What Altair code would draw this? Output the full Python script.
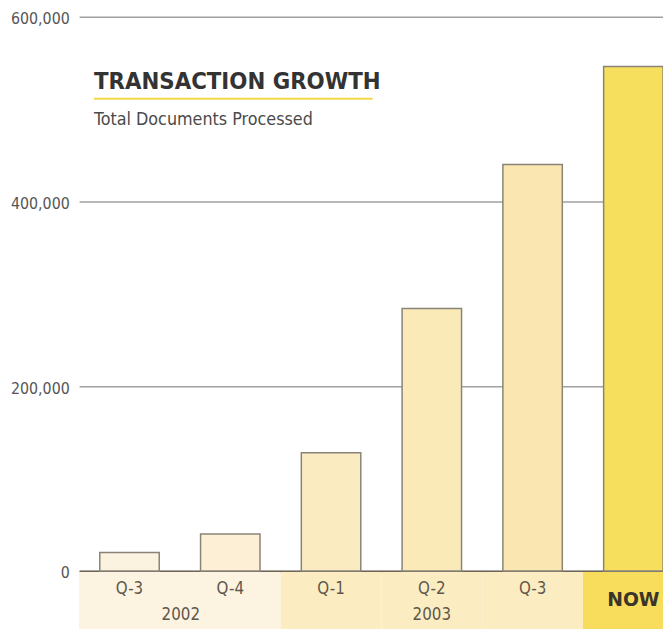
import altair as alt
import pandas as pd

# ---- data ----
categories = ["2002 Q-3", "2002 Q-4", "2003 Q-1", "2003 Q-2", "2003 Q-3", "NOW"]
quarter_labels = ["Q-3", "Q-4", "Q-1", "Q-2", "Q-3", ""]
groups = ["2002", "2002", "2003", "2003", "2003", "NOW"]
documents = [20000, 40000, 128000, 284000, 440000, 546000]
bar_fills = ["#FBF2E0", "#FCEFD6", "#FAEBC0", "#FAEAB8", "#FAE6B0", "#F7DF5E"]
strip_fills = {"2002": "#FDF3E1", "2003": "#FCECC2", "NOW": "#F8DD5C"}
y_ticks = [0, 200000, 400000, 600000]

title_text = "TRANSACTION GROWTH"
subtitle_text = "Total Documents Processed"

df = pd.DataFrame({
    "cat": categories,
    "q": quarter_labels,
    "group": groups,
    "docs": documents,
    "fill": bar_fills,
    "strip": [strip_fills[g] for g in groups],
})

W, H = 593, 561
PAD_IN = 0.41
COND = "DejaVu Sans Condensed, Liberation Sans"

xscale = alt.Scale(domain=categories, range=[2, 614], paddingInner=PAD_IN, paddingOuter=PAD_IN / 2)
X = alt.X("cat:N", scale=xscale, sort=categories,
          axis=alt.Axis(labels=False, ticks=False, title=None, grid=False,
                        domain=True, domainColor="#6e6658", domainWidth=2))
Y = alt.Y("docs:Q", scale=alt.Scale(domain=[0, 600000], nice=False),
          axis=alt.Axis(values=y_ticks, format=",.0f", title=None, ticks=False, domain=False,
                        grid=True, gridColor="#a0a0a0", gridWidth=1.5,
                        labelFont=COND, labelFontSize=16, labelColor="#555555",
                        labelPadding=8, labelOffset=2))

base = alt.Chart(df)

strip = base.mark_bar(width={"band": 1 / (1 - PAD_IN)}).encode(
    x=X,
    y=alt.value(H + 1),
    y2=alt.value(H + 60),
    fill=alt.Fill("strip:N", scale=None),
)

bars = base.mark_bar(stroke="#8a8478", strokeWidth=1.5).encode(
    x=X,
    y=Y,
    fill=alt.Fill("fill:N", scale=None),
)

qtext = base.mark_text(font=COND, fontSize=17, color="#5e584c", baseline="middle").encode(
    x=X, y=alt.value(H + 18), text="q:N"
)

nowtext = base.transform_filter(alt.datum.cat == "NOW").mark_text(
    font="DejaVu Sans", fontWeight="bold", fontSize=19, color="#3a3528", baseline="middle"
).encode(x=X, y=alt.value(H + 30), text=alt.value("NOW"))

y2002 = base.transform_filter(alt.datum.cat == "2002 Q-4").mark_text(
    font=COND, fontSize=17, color="#5e584c", baseline="middle", dx=-20
).encode(x=alt.X("cat:N", scale=xscale, sort=categories, bandPosition=0), y=alt.value(H + 45),
         text=alt.value("2002"))

y2003 = base.transform_filter(alt.datum.cat == "2003 Q-2").mark_text(
    font=COND, fontSize=17, color="#5e584c", baseline="middle"
).encode(x=X, y=alt.value(H + 45), text=alt.value("2003"))

title = alt.Chart(pd.DataFrame({"t": [title_text]})).mark_text(
    font=COND, fontWeight="bold", fontSize=24, color="#333333",
    align="left", baseline="alphabetic"
).encode(x=alt.value(17), y=alt.value(73), text="t:N")

underline = alt.Chart(pd.DataFrame({"t": [title_text]})).mark_rule(
    color="#F3D84A", strokeWidth=2
).encode(x=alt.value(17), x2=alt.value(299), y=alt.value(83))

subtitle = alt.Chart(pd.DataFrame({"t": [subtitle_text]})).mark_text(
    font=COND, fontSize=18, color="#4a4a4a", align="left", baseline="alphabetic"
).encode(x=alt.value(17), y=alt.value(110), text="t:N")

chart = alt.layer(strip, bars, qtext, nowtext, y2002, y2003, title, underline, subtitle).properties(
    width=W, height=H,
    autosize=alt.AutoSizeParams(type="none"),
    padding={"left": 70, "top": 5, "right": 0, "bottom": 55},
).configure_view(stroke=None)

chart.save("out.html", embed_options={"renderer": "svg", "actions": False})
